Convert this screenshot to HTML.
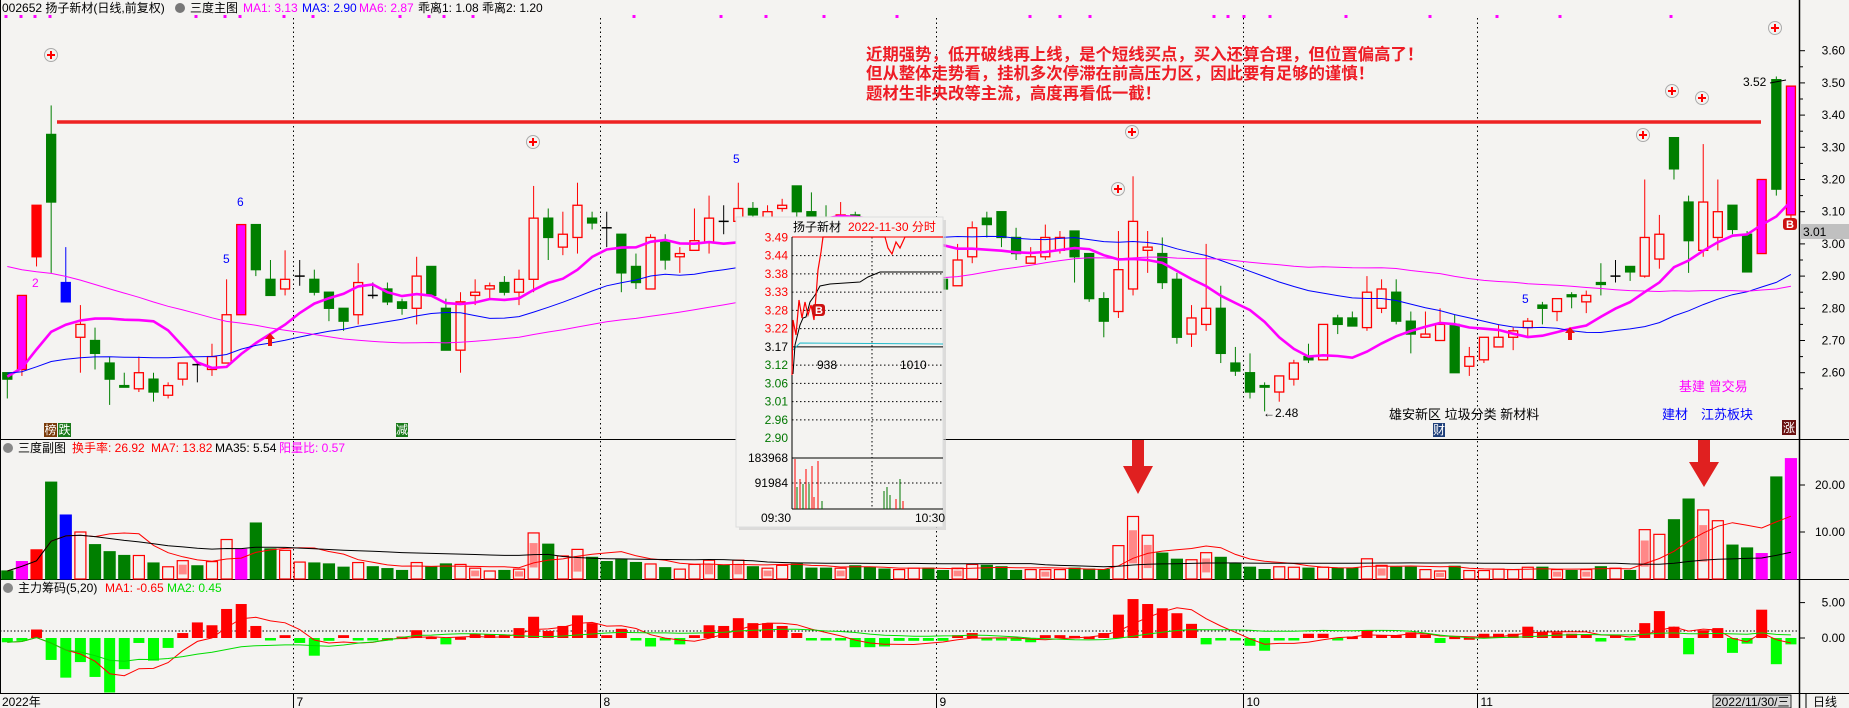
<!DOCTYPE html>
<html><head><meta charset="utf-8">
<style>
html,body{margin:0;padding:0;background:#f4f3f1;}
svg{display:block;font-family:"Liberation Sans","Noto Sans CJK SC",sans-serif;}
</style></head>
<body>
<svg id="chart" width="1849" height="708" viewBox="0 0 1849 708" xmlns="http://www.w3.org/2000/svg">
<rect x="0" y="0" width="1849" height="708" fill="#f4f3f1"/>
<g id="grid"></g>
<g id="marks"></g>
<g id="deco">
  <line x1="57" y1="122" x2="1761" y2="122" stroke="#ee2222" stroke-width="3.5"/>
  <text x="2" y="12" font-size="12" fill="#000">002652 扬子新材(日线,前复权)</text>
  <circle cx="180" cy="8" r="5" fill="#777"/>
  <text x="190" y="12" font-size="12" fill="#000">三度主图</text>
  <text x="243" y="12" font-size="12" fill="#ff00ff">MA1: 3.13</text>
  <text x="302" y="12" font-size="12" fill="#0000ff">MA3: 2.90</text>
  <text x="359" y="12" font-size="12" fill="#ff00ff">MA6: 2.87</text>
  <text x="418" y="12" font-size="12" fill="#000">乖离1: 1.08  乖离2: 1.20</text>

  <g font-size="16.4" font-weight="bold" fill="#ee1c25">
    <text x="866" y="60">近期强势，低开破线再上线，是个短线买点，买入还算合理，但位置偏高了！</text>
    <text x="866" y="79">但从整体走势看，挂机多次停滞在前高压力区，因此要有足够的谨慎！</text>
    <text x="866" y="99">题材生非央改等主流，高度再看低一截！</text>
  </g>

  <text x="32" y="287" font-size="12" fill="#ff00ff">2</text>
  <text x="223" y="263" font-size="12" fill="#0000ff">5</text>
  <text x="237" y="206" font-size="12" fill="#0000ff">6</text>
  <text x="733" y="163" font-size="12" fill="#0000ff">5</text>
  <text x="1522" y="303" font-size="12" fill="#0000ff">5</text>
  <text x="1743" y="86" font-size="12" fill="#000">3.52</text>
  <polyline points="1770,83 1786,80" fill="none" stroke="#000" stroke-width="1"/>
  <text x="1263" y="417" font-size="12" fill="#000">←2.48</text>
  <text x="1389" y="419" font-size="13" fill="#000">雄安新区 垃圾分类 新材料</text>
  <text x="1679" y="391" font-size="13" fill="#ff00ff">基建 曾交易</text>
  <text x="1662" y="419" font-size="13" fill="#0000ff">建材　江苏板块</text>

  <rect x="44" y="423" width="13" height="14" fill="#7a3b0a"/><text x="44.5" y="434" font-size="12" fill="#fff">榜</text>
  <rect x="58" y="423" width="13" height="14" fill="#1a7a1a"/><text x="58.5" y="434" font-size="12" fill="#fff">跌</text>
  <rect x="396" y="423" width="12" height="14" fill="#1a7a1a"/><text x="396" y="434" font-size="12" fill="#fff">减</text>
  <rect x="1433" y="423" width="12" height="14" fill="#1f3f7a"/><text x="1433" y="434" font-size="12" fill="#fff">财</text>
  <rect x="1782" y="420" width="14" height="15" fill="#6a1010"/><text x="1783" y="432" font-size="12" fill="#fff">涨</text>

  <path d="M270,333 l-5,6 h3 v7 h4 v-7 h3 z" fill="#ee1111"/>
  <path d="M1570,327 l-5,6 h3 v7 h4 v-7 h3 z" fill="#ee1111"/>

  <g><rect x="1783" y="218" width="14" height="12" rx="3" fill="#cc1111"/><text x="1786" y="228" font-size="11" font-weight="bold" fill="#fff">B</text></g>
  <rect x="1800" y="224" width="49" height="15" fill="#c0c0c0"/>
  <text x="1803" y="236" font-size="12" fill="#000">3.01</text>

  <text x="18" y="452" font-size="12" fill="#000">三度副图</text>
  <circle cx="8" cy="448" r="5" fill="#888"/>
  <text x="72" y="452" font-size="12" fill="#ff0000">换手率: 26.92</text>
  <text x="151" y="452" font-size="12" fill="#ff0000">MA7: 13.82</text>
  <text x="215" y="452" font-size="12" fill="#000">MA35: 5.54</text>
  <text x="279" y="452" font-size="12" fill="#ff00ff">阳量比: 0.57</text>

  <text x="18" y="592" font-size="12" fill="#000">主力筹码(5,20)</text>
  <circle cx="8" cy="588" r="5" fill="#888"/>
  <text x="105" y="592" font-size="12" fill="#ff0000">MA1: -0.65</text>
  <text x="167" y="592" font-size="12" fill="#00dd00">MA2: 0.45</text>

  <path d="M1132,440 h12 v26 h9 l-15,28 l-15,-28 h9 z" fill="#e02020"/>
  <path d="M1698,440 h12 v22 h9 l-15,25 l-15,-25 h9 z" fill="#e02020"/>

  <rect x="1713" y="695" width="78" height="13" fill="#d8d8d8" stroke="#000" stroke-width="0.8"/>
  <text x="1715" y="706" font-size="12" fill="#000">2022/11/30/三</text>
  <text x="1813" y="706" font-size="12" fill="#000">日线</text>
</g>
<g id="popup"></g>
</svg>
<script>
// ---- data ----
const priorCloses = [3.40,3.45,3.50,3.42,3.38,3.44,3.48,3.40,3.35,3.38,3.42,3.36,3.30,3.34,3.40,3.45,3.38,3.32,3.36,3.30,3.26,3.28,3.22,3.18,3.12,3.05,2.98,2.92,2.86,2.80,2.74,2.70,2.66,2.64,2.60,2.62,2.58,2.56,2.60,2.62,2.58,2.55,2.57,2.60,2.62,2.59,2.56,2.58,2.61,2.63,2.60,2.57,2.55,2.58,2.60,2.62,2.60,2.58,2.59,2.61];
const openP  = [2.60,2.61,2.96,3.34,2.88,2.71,2.70,2.63,2.56,2.55,2.58,2.53,2.58,2.625,2.61,2.63,2.78,3.06,2.89,2.86,2.90,2.89,2.85,2.80,2.78,2.84,2.86,2.82,2.80,2.93,2.80,2.67,2.84,2.86,2.88,2.85,2.89,3.08,2.99,3.02,3.08,3.05,3.03,2.93,2.86,3.01,2.96,2.98,3.005,3.07,3.07,3.11,3.08,3.11,3.18,3.10,3.08,3.06,3.09,3.05,3.02,2.96,2.93,2.95,2.89,2.87,2.96,3.08,3.10,3.02,2.94,2.96,2.98,3.04,2.97,2.83,2.79,2.86,2.98,2.97,2.89,2.72,2.75,2.80,2.63,2.60,2.56,2.54,2.58,2.65,2.64,2.77,2.77,2.74,2.80,2.85,2.76,2.71,2.70,2.75,2.62,2.64,2.68,2.71,2.74,2.81,2.79,2.842,2.82,2.88,2.90,2.93,2.90,2.953,3.33,3.13,2.98,3.02,3.12,3.03,2.97,3.51,3.09];
const closeP = [2.58,2.84,3.12,3.13,2.82,2.75,2.66,2.58,2.555,2.60,2.54,2.56,2.63,2.625,2.65,2.78,3.06,2.92,2.84,2.89,2.90,2.85,2.80,2.76,2.88,2.84,2.82,2.80,2.90,2.84,2.67,2.82,2.85,2.87,2.85,2.89,3.08,3.02,3.03,3.12,3.065,3.05,2.91,2.88,3.02,2.95,2.97,3.01,3.08,3.07,3.11,3.09,3.10,3.12,3.10,3.06,3.05,3.09,3.05,3.02,2.98,2.99,2.96,2.90,2.86,2.95,3.05,3.06,3.02,2.97,2.96,3.02,3.02,2.96,2.83,2.76,2.92,3.07,2.99,2.88,2.71,2.77,2.80,2.66,2.605,2.54,2.555,2.59,2.63,2.64,2.75,2.75,2.745,2.85,2.86,2.76,2.72,2.72,2.75,2.60,2.65,2.71,2.71,2.73,2.76,2.80,2.83,2.836,2.84,2.874,2.90,2.913,3.02,3.03,3.233,3.01,3.13,3.10,3.045,2.913,3.20,3.17,3.49];
const highP  = [2.60,2.84,3.12,3.43,2.99,2.81,2.74,2.65,2.60,2.65,2.60,2.57,2.63,2.63,2.69,2.89,3.06,3.06,2.95,2.98,2.95,2.92,2.85,2.80,2.94,2.88,2.88,2.83,2.96,2.93,2.83,2.85,2.89,2.88,2.90,2.92,3.18,3.11,3.10,3.19,3.10,3.10,3.03,2.97,3.03,3.03,2.99,3.11,3.15,3.12,3.19,3.13,3.12,3.14,3.18,3.16,3.12,3.13,3.10,3.07,3.04,3.01,2.98,2.96,2.89,3.00,3.07,3.10,3.10,3.05,2.99,3.06,3.04,3.04,2.97,2.85,3.04,3.21,3.04,3.02,2.91,2.81,3.00,2.87,2.68,2.66,2.57,2.59,2.64,2.69,2.75,2.78,2.79,2.90,2.89,2.89,2.79,2.79,2.80,2.78,2.68,2.71,2.75,2.74,2.77,2.82,2.83,2.85,2.855,2.94,2.95,2.93,3.20,3.09,3.33,3.15,3.31,3.20,3.12,3.04,3.20,3.52,3.49];
const lowP   = [2.52,2.59,2.93,2.91,2.82,2.60,2.61,2.50,2.555,2.54,2.51,2.52,2.56,2.57,2.59,2.63,2.78,2.90,2.84,2.84,2.87,2.84,2.76,2.73,2.75,2.83,2.81,2.78,2.75,2.84,2.67,2.60,2.81,2.83,2.84,2.81,2.85,2.95,2.965,2.97,3.045,2.99,2.85,2.86,2.86,2.92,2.91,2.98,2.97,3.03,3.07,3.08,3.06,3.10,3.08,3.03,3.02,3.03,3.02,3.00,2.96,2.94,2.91,2.88,2.85,2.87,2.94,3.02,2.99,2.95,2.94,2.95,2.97,2.88,2.82,2.71,2.77,2.84,2.91,2.86,2.69,2.68,2.73,2.63,2.59,2.52,2.48,2.51,2.56,2.63,2.64,2.72,2.745,2.73,2.785,2.75,2.66,2.71,2.70,2.60,2.59,2.63,2.68,2.67,2.71,2.75,2.76,2.80,2.785,2.84,2.88,2.885,2.895,2.923,3.20,2.91,2.96,2.98,3.03,2.913,2.97,3.15,3.08];
const specialKind = {1:'m',2:'r',4:'b',16:'m',120:'m',122:'m'};
const turnover = [1.7,3.7,6.2,20.6,13.6,10,7.3,5.8,5.0,5.0,3.4,2.6,3.9,2.8,3.7,8.4,6.3,11.9,6.4,6.1,3.6,3.4,3.2,2.5,3.5,2.6,2.2,1.8,3.5,2.6,3.2,3.1,2.3,1.7,1.8,2.1,9.8,7.4,4.9,6.3,4.6,3.7,4.1,3.5,3.2,2.4,2.1,3.1,4.0,2.9,4.0,2.6,2.3,2.9,3.2,2.3,2.3,2.3,2.8,2.5,2.1,2.0,2.3,2.3,1.8,2.3,3.1,2.9,2.6,1.8,2.0,2.0,2.0,2.3,2.1,2.0,7.1,13.3,9.3,5.5,4.2,4.1,5.6,4.6,3.3,2.5,2.0,2.6,2.5,2.3,2.5,2.3,2.3,4.3,2.9,2.5,2.5,2.0,1.7,2.7,1.8,1.8,2.1,2.0,2.5,2.5,2.0,1.8,2.0,2.6,2.3,1.8,10.5,9.5,12.6,17.0,14.7,12.4,7.2,6.6,5.4,21.7,25.6];
const pinkIdx = [12,32,35,36,39,48,50,52,57,65,71,77,78,82,94,98,106,108,112,116];
const chips = [-0.6,-0.4,1.2,-3.1,-5.6,-3.4,-5.5,-7.7,-4.4,-0.7,-3.2,-1.4,0.7,2.2,1.8,4.1,4.8,1.7,-0.3,0.4,-0.7,-2.5,-0.4,0.4,-0.3,-0.3,-0.3,0.2,1.1,0.2,-0.9,0.1,0.6,0.5,0.5,1.4,3.0,1.0,1.7,3.2,2.1,0.4,1.3,-0.3,-1.2,-0.3,-0.9,0.4,1.8,1.7,2.8,2.1,2.1,1.7,0.7,-0.3,-0.3,-0.3,-1.3,-1.3,-1.2,-0.4,-0.4,-0.4,-0.4,0.4,0.7,-0.3,-0.3,-0.4,-0.6,0.4,0.4,0.3,0.2,0.7,3.3,5.5,4.8,4.2,3.5,2.0,-0.9,-0.3,-0.3,-1.1,-1.8,-0.3,-0.3,0.6,0.6,-0.3,0.2,1.1,0.4,0.4,0.8,0.5,-0.7,0.2,0.1,0.6,0.6,0.6,1.6,0.8,0.8,0.6,0.5,-0.5,0.4,-0.3,2.1,3.8,1.6,-2.3,1.1,1.4,-2.1,-0.8,4.0,-3.7,-0.9];
const priceTicks = [3.60,3.50,3.40,3.30,3.20,3.10,3.00,2.90,2.80,2.70,2.60];
const volTicks = [20,10];
const chipTicks = [5,0];
const monthLabels = ["2022年","7","8","9","10","11"];
const monthStartIdx = [0,20,41,64,85,101];
const maPeriods = [10,30,60];

// ---- scales ----
const NS="http://www.w3.org/2000/svg";
const X0=7.3, DX=14.62, BW=10;
const xi=i=>X0+DX*i;
const py=p=>50.7+(3.6-p)*322;
const vy=v=>579-v*4.7;
const iy=v=>638-v*7.08;
const grid=document.getElementById('grid'), marks=document.getElementById('marks'), pop=document.getElementById('popup');
function mk(tag,parent,attrs){const e=document.createElementNS(NS,tag);for(const k in attrs)e.setAttribute(k,attrs[k]);parent.appendChild(e);return e;}
function ma(arr,n,i){let s=0,c=0;for(let k=Math.max(0,i-n+1);k<=i;k++){s+=arr[k];c++;}return s/c;}
const allCloses = priorCloses.concat(closeP);
const PRE = priorCloses.length;

// ---- frame & axes ----
let el;
el=mk('line',grid,{x1:1799.5,y1:0,x2:1799.5,y2:708,stroke:'#000','stroke-width':1.5});


[439.5,579.5,693.5].forEach((y,k)=>{
  el=mk('line',grid,{x1:0,y1:y,x2:1849,y2:y,stroke:'#000','stroke-width':1});
  
  
});
el=mk('line',grid,{x1:0.5,y1:0,x2:0.5,y2:693,stroke:'#000','stroke-width':1});


el=mk('line',grid,{x1:1806,y1:693,x2:1806,y2:708,stroke:'#000','stroke-width':1});



priceTicks.forEach(p=>{
  el=mk('text',grid,{x:1845,y:py(p)+4,'font-size':12,'text-anchor':'end',fill:'#000'});
  el.textContent=p.toFixed(2);
  
  
  mk('line',grid,{x1:1800,y1:py(p),x2:1805,y2:py(p),stroke:'#000'});
  mk('line',grid,{x1:1800,y1:py(p-0.05),x2:1803,y2:py(p-0.05),stroke:'#000'});
});
volTicks.forEach(v=>{
  el=mk('text',grid,{x:1845,y:vy(v)+4,'font-size':12,'text-anchor':'end',fill:'#000'});
  el.textContent=v.toFixed(2);
  
  
  mk('line',grid,{x1:1800,y1:vy(v),x2:1805,y2:vy(v),stroke:'#000'});
});
chipTicks.forEach(v=>{
  el=mk('text',grid,{x:1845,y:iy(v)+4,'font-size':12,'text-anchor':'end',fill:'#000'});
  el.textContent=v.toFixed(2);
  
  
  mk('line',grid,{x1:1800,y1:iy(v),x2:1805,y2:iy(v),stroke:'#000'});
});
monthStartIdx.forEach((idx,k)=>{
  const x = k===0 ? 2 : Math.round(xi(idx)-7)+0.5;
  if(k>0){
    el=mk('line',grid,{x1:x,y1:18,x2:x,y2:693,stroke:'#000','stroke-dasharray':'1.5,3','stroke-width':1});
    
    
    mk('line',grid,{x1:x,y1:693,x2:x,y2:708,stroke:'#000'});
  }
  el=mk('text',grid,{x:k===0?2:x+3,y:706,'font-size':12,fill:'#000'});
  el.textContent=monthLabels[k];
  
  
});
el=mk('line',grid,{x1:0,y1:631,x2:1799,y2:631,stroke:'#000','stroke-dasharray':'1.5,2','stroke-width':1});


[6,21,35,50,196,225,240,284,313,400,429,444,473,634,721,766,824,897,1030,1060,1090,1214,1228,1244,1270,1346,1430,1497,1560,1671].forEach(x=>{
  el=mk('rect',grid,{x:x-1.5,y:15,width:3,height:3,fill:'#ff00ff'});
  
  
});
[[51,55],[533,142],[1132,132],[1118,189],[1643,135],[1672,91],[1702,98],[1775,28]].forEach(([x,y])=>{
  el=mk('circle',grid,{cx:x,cy:y,r:6.5,fill:'#f4f3f1',stroke:'#aaa'});
  
  
  mk('path',grid,{d:`M${x-4},${y}h8M${x},${y-4}v8`,stroke:'#f00','stroke-width':2});
});

// ---- candles ----
const N=closeP.length;
for(let i=0;i<N;i++){
  const x=xi(i), o=openP[i], c=closeP[i];
  const sk=specialKind[i];
  let col, fill;
  if(sk==='m'){col='#ff0000';fill='#ff00ff';}
  else if(sk==='b'){col='#0000ff';fill='#0000ff';}
  else if(sk==='r'){col='#ff0000';fill='#ff0000';}
  else if(c>o){col='#ff0000';fill='#f4f3f1';}
  else if(c<o){col='#007f00';fill='#007f00';}
  else {col='#000';fill='#000';}
  const g=mk('g',marks,{});
  
  
  const top=py(Math.max(o,c)), bot=py(Math.min(o,c));
  mk('line',g,{x1:x,y1:py(highP[i]),x2:x,y2:top,stroke:col,'stroke-width':1});
  mk('line',g,{x1:x,y1:bot,x2:x,y2:py(lowP[i]),stroke:col,'stroke-width':1});
  if(Math.abs(o-c)<0.0001){
    mk('line',g,{x1:x-BW/2,y1:top,x2:x+BW/2,y2:top,stroke:col,'stroke-width':1.5});
  } else {
    mk('rect',g,{x:x-BW/2+0.5,y:top,width:BW-1,height:Math.max(1.5,bot-top),fill:fill,stroke:col,'stroke-width':1.3});
  }
}
const maStyles=[{c:'#ff00ff',w:2.6,n:'ma1-line'},{c:'#0000ff',w:1,n:'ma3-line'},{c:'#ff00ff',w:1,n:'ma6-line'}];
maPeriods.forEach((n,k)=>{
  let d='';
  for(let i=0;i<N;i++){d+=(i?'L':'M')+xi(i).toFixed(1)+','+py(ma(allCloses,n,i+PRE)).toFixed(1);}
  el=mk('path',marks,{d:d,fill:'none',stroke:maStyles[k].c,'stroke-width':maStyles[k].w});
  
  
});

// ---- volume ----
for(let i=0;i<N;i++){
  const x=xi(i), v=turnover[i], sk=specialKind[i];
  const up = closeP[i]>openP[i] || (closeP[i]===openP[i] && i>0 && closeP[i]>closeP[i-1]);
  let fill,stroke;
  if(sk==='m'){fill='#ff00ff';stroke='#ff00ff';}
  else if(sk==='b'){fill='#0000ff';stroke='#0000ff';}
  else if(sk==='r'){fill='#ff0000';stroke='#ff0000';}
  else if(up){fill='#f4f3f1';stroke='#ff0000';}
  else {fill='#007f00';stroke='#007f00';}
  el=mk('rect',marks,{x:x-BW/2-0.5,y:vy(v),width:BW+1,height:579-vy(v),fill:fill,stroke:stroke,'stroke-width':1.2});
  
  
  if(pinkIdx.indexOf(i)>=0){
    el=mk('rect',marks,{x:x-BW/2+1,y:vy(v*0.78),width:BW-2,height:(v*0.78-v*0.25)*4.7,fill:'#ff8888'});
    
    
  }
}
[[7,'#ff0000','volume-ma7-line'],[35,'#000','volume-ma35-line']].forEach(([n,c,nm])=>{
  let d='';for(let i=0;i<N;i++){d+=(i?'L':'M')+xi(i).toFixed(1)+','+vy(ma(turnover,n,i)).toFixed(1);}
  el=mk('path',marks,{d:d,fill:'none',stroke:c,'stroke-width':1});
  
  
});

// ---- indicator ----
for(let i=0;i<N;i++){
  const x=xi(i), v=chips[i];
  const y1=iy(Math.max(v,0)), y2=iy(Math.min(v,0));
  el=mk('rect',marks,{x:x-BW/2-0.5,y:y1,width:BW+1,height:Math.max(2.5,y2-y1),fill:v>=0?'#ff0000':'#00ff00'});
  
  
}
[[5,'#ff0000','chip-ma1-line'],[20,'#00dd00','chip-ma2-line']].forEach(([n,c,nm])=>{
  let d='';for(let i=0;i<N;i++){d+=(i?'L':'M')+xi(i).toFixed(1)+','+iy(ma(chips,n,i)).toFixed(1);}
  el=mk('path',marks,{d:d,fill:'none',stroke:c,'stroke-width':1});
  
  
});

// ---- intraday popup ----
const popPrices=["3.49","3.44","3.38","3.33","3.28","3.22","3.17","3.12","3.06","3.01","2.96","2.90"];
const popColors=["#f00","#f00","#f00","#f00","#f00","#f00","#000","#070","#070","#070","#070","#070"];
el=mk('rect',pop,{x:739,y:220,width:207,height:310,fill:'#ccc',opacity:0.6});
el=mk('rect',pop,{x:736,y:217,width:207,height:310,fill:'#f4f3f1',stroke:'#ddd'});


el=mk('text',pop,{x:793,y:231,'font-size':12,fill:'#000'});el.textContent='扬子新材';


el=mk('text',pop,{x:848,y:231,'font-size':12,fill:'#f00'});el.textContent='2022-11-30 分时';


const ppy=k=>237.4+k*18.25;
popPrices.forEach((p,k)=>{
  if(k===11) return;
  el=mk('text',pop,{x:788,y:ppy(k)+4,'font-size':12,'text-anchor':'end',fill:popColors[k]});el.textContent=popPrices[k];
  
  
  if(k>0) mk('line',pop,{x1:792,y1:ppy(k),x2:943,y2:ppy(k),stroke:'#000','stroke-dasharray':k===6?'':'1.5,2.5','stroke-width':1});
});
el=mk('text',pop,{x:788,y:ppy(11)+4,'font-size':12,'text-anchor':'end',fill:'#070'});el.textContent='2.90';
mk('line',pop,{x1:792,y1:237,x2:943,y2:237,stroke:'#f00'});
mk('line',pop,{x1:792,y1:237,x2:792,y2:509,stroke:'#000'});
mk('line',pop,{x1:872,y1:237,x2:872,y2:509,stroke:'#000','stroke-dasharray':'1.5,2.5'});
mk('line',pop,{x1:792,y1:458,x2:943,y2:458,stroke:'#000'});
mk('line',pop,{x1:792,y1:483,x2:943,y2:483,stroke:'#000','stroke-dasharray':'1.5,2.5'});
mk('line',pop,{x1:792,y1:509,x2:943,y2:509,stroke:'#000'});
el=mk('text',pop,{x:788,y:462,'font-size':12,'text-anchor':'end',fill:'#000'});el.textContent='183968';
el=mk('text',pop,{x:788,y:487,'font-size':12,'text-anchor':'end',fill:'#000'});el.textContent='91984';
el=mk('text',pop,{x:761,y:522,'font-size':12,fill:'#000'});el.textContent='09:30';
el=mk('text',pop,{x:915,y:522,'font-size':12,fill:'#000'});el.textContent='10:30';
el=mk('text',pop,{x:817,y:369,'font-size':12,fill:'#000'});el.textContent='938';
el=mk('text',pop,{x:900,y:369,'font-size':12,fill:'#000'});el.textContent='1010';
mk('path',pop,{d:'M793,350 L800,343 L943,344',stroke:'#22bbcc',fill:'none','stroke-width':1});
mk('path',pop,{d:'M793,374 L795,345 L800,325 L803,318 L806,317 L810,302 L815,295 L820,286 L830,284 L860,282 L868,277 L880,272 L943,272',stroke:'#000',fill:'none','stroke-width':1});
mk('path',pop,{d:'M792,375 L793,320 L796,335 L799,300 L802,318 L805,302 L808,315 L811,305 L814,320 L816,296 L818,270 L821,252 L823,237 L885,237 L888,248 L892,254 L896,242 L900,248 L905,237 L943,237',stroke:'#f00',fill:'none','stroke-width':1.2});
mk('rect',pop,{x:812,y:304,width:13,height:12,rx:3,fill:'#cc1111'});
el=mk('text',pop,{x:815,y:314,'font-size':11,'font-weight':'bold',fill:'#fff'});el.textContent='B';
[[795,50,'#f00'],[797,22,'#070'],[800,30,'#f00'],[803,25,'#070'],[806,40,'#f00'],[809,25,'#070'],[812,43,'#f00'],[814,12,'#f00'],[818,48,'#f00'],[822,8,'#070'],[884,18,'#070'],[887,22,'#070'],[890,14,'#070'],[896,10,'#f00'],[900,30,'#070'],[903,8,'#f00']].forEach(([x,h,c])=>{
  mk('line',pop,{x1:x,y1:509,x2:x,y2:509-h,stroke:c,'stroke-width':1});
});
</script>
</body></html>
